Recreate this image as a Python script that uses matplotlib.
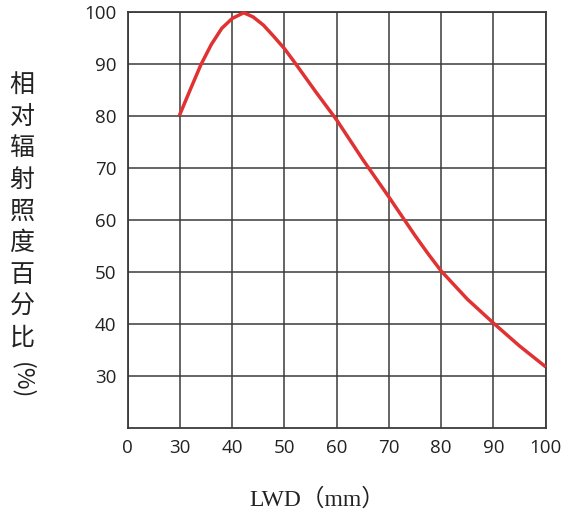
import matplotlib
matplotlib.use("Agg")
import matplotlib.pyplot as plt
import numpy as np

# ---- data ----
lwd_mm = [29.6, 32, 34, 36, 38, 40, 42.2, 44, 46, 48, 50, 52, 54, 56, 58,
          60, 62.5, 65, 67.5, 70, 72.5, 75, 77.5, 80, 85, 90, 95, 100]
irradiance_pct = [80.0, 85.1, 89.8, 93.7, 96.8, 98.7, 99.8, 99.0, 97.4, 95.2, 92.9,
                  90.2, 87.4, 84.6, 81.9, 79.2, 75.4, 71.6, 68.0, 64.4, 60.7, 57.0,
                  53.5, 50.2, 44.8, 40.2, 35.8, 31.8]
x_ticks = [0, 30, 40, 50, 60, 70, 80, 90, 100]
y_ticks = [30, 40, 50, 60, 70, 80, 90, 100]
y_label_chars = list("相对辐射照度百分比")
y_label_unit = "(%)"
x_label = "LWD（mm）"

W, H = 562, 518
fig = plt.figure(figsize=(W / 100, H / 100), dpi=100)
ax = fig.add_axes([127.7 / W, 1 - 428.3 / H, (545.7 - 127.7) / W, (428.3 - 11.7) / H])

# broken x axis: 0 -> 30 occupies one grid cell
def fwd(x):
    x = np.asarray(x, dtype=float)
    return np.where(x >= 30, x - 20, x / 3.0)

def inv(y):
    y = np.asarray(y, dtype=float)
    return np.where(y >= 10, y + 20, y * 3.0)

ax.set_xscale("function", functions=(fwd, inv))
ax.set_xlim(0, 100)
ax.set_ylim(20, 100)
ax.set_xticks(x_ticks)
ax.set_yticks(y_ticks)
ax.set_xticklabels([str(v) for v in x_ticks])
ax.set_yticklabels([str(v) for v in y_ticks])
ax.minorticks_off()

ax.grid(True, color="#3a3a3a", linewidth=1.1)
ax.set_axisbelow(True)
for s in ax.spines.values():
    s.set_color("#3a3a3a")
    s.set_linewidth(1.3)
ax.tick_params(length=0, pad=8, labelsize=13.5, labelcolor="#222222")
for lbl in ax.get_xticklabels() + ax.get_yticklabels():
    lbl.set_fontfamily("Open Sans")

ax.plot(lwd_mm, irradiance_pct, color="#e03232", linewidth=2.5,
        solid_capstyle="butt", solid_joinstyle="round", clip_on=False, zorder=3)

# vertical y label
y0, step = 85, 31.6
for i, ch in enumerate(y_label_chars):
    fig.text(22 / W, 1 - (y0 + i * step) / H, ch, ha="center", va="center",
             fontsize=18, family=["Noto Sans CJK SC"], color="#222222")
fig.text(22 / W, 1 - 381 / H, y_label_unit, ha="center", va="center", rotation=-90,
         fontsize=17, family=["Noto Sans CJK SC", "DejaVu Sans"], color="#222222")

fig.text(317 / W, 1 - 499 / H, x_label, ha="center", va="center", fontsize=17,
         family=["Liberation Serif", "Noto Sans CJK SC"], color="#222222")

fig.savefig("out.png", dpi=100, facecolor="white")
